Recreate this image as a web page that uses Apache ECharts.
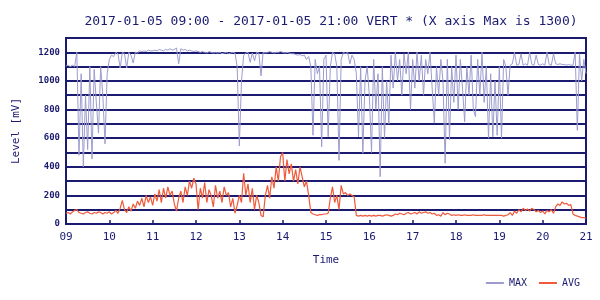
<!DOCTYPE html>
<html><head><meta charset="utf-8">
<script src="https://cdn.jsdelivr.net/npm/echarts@6/dist/echarts.min.js"></script>
<style>html,body{margin:0;padding:0;background:#fff}#c{width:600px;height:300px}</style>
</head><body><div id="c"></div>
<script>
// time grid: 09:00 -> 21:00, every 3 minutes (0.05 h)
const startHour = 9, stepHour = 0.05;
const xTickLabels = ['09','10','11','12','13','14','15','16','17','18','19','20','21'];
const yTickLabels = ['0','200','400','600','800','1000','1200'];

const maxValues = [
 1105,1110,1100,1110,1100,1200,480,1050,400,900,520,1100,455,1080,850,635,1100,900,560,1050,
 1150,1180,1170,1200,1190,1090,1200,1190,1090,1200,1180,1125,1200,1195,1210,1205,1210,1205,1215,1210,
 1210,1215,1210,1220,1215,1210,1220,1215,1225,1215,1220,1230,1120,1225,1215,1220,1210,1215,1210,1205,
 1210,1205,1200,1205,1200,1195,1205,1200,1195,1200,1195,1200,1190,1195,1200,1190,1195,1200,1195,1100,
 545,1000,1180,1195,1200,1130,1195,1140,1200,1195,1035,1200,1195,1200,1205,1200,1195,1200,1200,1205,
 1200,1195,1200,1195,1190,1190,1185,1180,1185,1175,1180,1150,1170,1100,620,1150,1050,1100,540,1150,
 1180,610,1100,1200,1190,1100,445,1150,1200,1190,1200,1120,1180,1150,1050,610,1100,495,1000,1100,
 900,500,1150,800,1050,330,1100,600,1000,700,1180,950,1200,1000,1150,900,1190,1050,1200,800,
 1150,950,1200,1000,1180,900,1150,1050,1200,950,705,1100,900,1150,1000,425,1150,590,1100,850,
 1180,800,1150,950,715,1100,900,1180,800,750,1150,900,1200,850,1100,600,1050,610,1000,620,
 1100,600,1150,1100,900,1110,1120,1200,1110,1115,1190,1110,1120,1110,1200,1115,1110,1180,1115,1110,
 1120,1110,1200,1115,1110,1190,1120,1115,1120,1115,1115,1110,1115,1110,1110,1200,655,1190,1000,1150,
 1050
];
const avgValues = [
 75,80,70,85,95,100,80,75,70,80,85,75,70,80,75,85,80,70,80,75,
 85,70,80,95,75,110,165,100,80,120,90,140,110,160,130,180,120,200,150,190,
 130,210,160,240,150,250,180,260,200,230,140,90,180,230,150,260,200,300,250,320,
 280,100,250,180,290,150,240,200,120,270,180,230,150,260,200,220,120,180,75,130,
 200,150,355,200,280,150,250,100,200,150,60,50,200,270,180,330,250,400,300,470,
 500,300,450,350,420,300,380,280,400,330,260,300,200,80,70,65,60,65,65,70,
 70,75,180,260,150,200,100,270,210,220,200,210,200,190,60,55,60,55,60,55,
 60,55,60,55,60,60,55,60,65,60,55,60,70,65,75,70,65,75,80,70,
 75,80,70,85,75,80,85,75,80,70,75,60,65,55,80,65,75,70,60,65,
 60,65,60,60,65,60,60,60,65,60,60,60,60,65,60,60,60,60,60,60,
 60,60,55,60,65,80,60,90,75,100,85,110,95,105,90,110,100,85,95,80,
 90,70,95,85,100,75,120,140,130,155,140,145,130,135,70,60,55,50,45,45,
 40
];

const times = maxValues.map((_, i) => +(startHour + i * stepHour).toFixed(2));
const maxData = times.map((t, i) => [t, maxValues[i]]);
const avgData = times.map((t, i) => [t, avgValues[i]]);

const navy = '#1a1a70';
const mono = '"DejaVu Sans Mono", "Liberation Mono", monospace';
const chart = echarts.init(document.getElementById('c'));
chart.setOption({
  animation: false,
  backgroundColor: '#fff',
  title: {
    text: '2017-01-05 09:00 - 2017-01-05 21:00 VERT * (X axis Max is 1300)',
    left: 326, top: 10, textAlign: 'center',
    textStyle: { fontFamily: mono, fontSize: 13, fontWeight: 'normal', color: navy }
  },
  grid: { left: 66, right: 14, top: 38, bottom: 76, show: true, borderColor: navy, borderWidth: 2 },
  legend: {
    right: 15, top: 273, itemWidth: 18, itemHeight: 2, itemGap: 12, icon: 'rect',
    textStyle: { fontFamily: mono, fontSize: 10, color: navy },
    data: ['MAX', 'AVG']
  },
  xAxis: {
    type: 'value', min: 9, max: 21, interval: 1,
    name: 'Time', nameLocation: 'middle', nameGap: 31,
    nameTextStyle: { fontFamily: mono, fontSize: 11, color: navy },
    axisLine: { show: true, lineStyle: { color: navy, width: 2 } },
    axisTick: { show: true, inside: true, length: 4, lineStyle: { color: navy, width: 1.5 } },
    splitLine: { show: false },
    axisLabel: {
      margin: 8, fontFamily: mono, fontSize: 11, color: navy,
      formatter: v => xTickLabels[Math.round(v - startHour)]
    }
  },
  yAxis: {
    type: 'value', min: 0, max: 1300, interval: 100,
    name: 'Level [mV]', nameLocation: 'middle', nameGap: 44,
    nameTextStyle: { fontFamily: mono, fontSize: 11, color: navy },
    axisLine: { show: true, lineStyle: { color: navy, width: 2 } },
    axisTick: { show: false },
    splitLine: { show: true, lineStyle: { color: navy, width: 2 } },
    axisLabel: {
      margin: 6, fontFamily: mono, fontSize: 9, fontWeight: 'bold', color: navy,
      formatter: v => yTickLabels.includes(String(v)) ? String(v) : ''
    }
  },
  series: [
    { name: 'MAX', type: 'line', data: maxData, showSymbol: false, symbol: 'none',
      lineStyle: { color: '#9c9cd0', width: 1 }, itemStyle: { color: '#9c9cd0' } },
    { name: 'AVG', type: 'line', data: avgData, showSymbol: false, symbol: 'none',
      lineStyle: { color: '#f05a3a', width: 1.2 }, itemStyle: { color: '#f05a3a' } }
  ]
});
</script></body></html>
